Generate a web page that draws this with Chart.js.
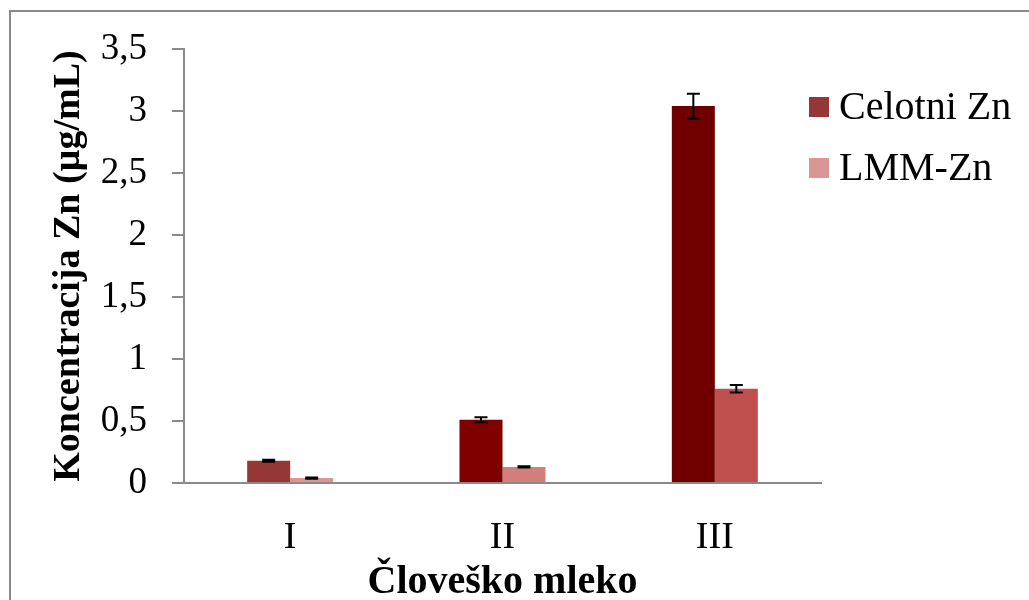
<!DOCTYPE html>
<html>
<head>
<meta charset="utf-8">
<script src="https://cdn.jsdelivr.net/npm/chart.js@4.4.0/dist/chart.umd.min.js"></script>
<style>
    body { margin: 0; background: #fff; }
    #wrap { position: relative; width: 1029px; height: 600px; overflow: hidden; }
    #frame { position: absolute; left: 9px; top: 10px; width: 1100px; height: 700px; border: 2px solid #898989; }
    #myChart { position: absolute; left: 0; top: 0; }
</style>
</head>
<body>
<div id="wrap">
    <div id="frame"></div>
    <canvas id="myChart" width="1029" height="600"></canvas>
</div>
<script>
var categories = ['I', 'II', 'III'];
var seriesNames = ['Celotni Zn', 'LMM-Zn'];
var celotniZn = [0.18, 0.51, 3.04];
var celotniErr = [0.008, 0.02, 0.1];
var lmmZn = [0.04, 0.13, 0.76];
var lmmErr = [0.005, 0.005, 0.03];
var celotniColors = ['#953735', '#800000', '#700000'];
var lmmColors = ['#d99694', '#d27f7c', '#c0504d'];

var serif = "'Liberation Serif', 'Times New Roman', serif";

// error bars drawn on top of each bar, using the y scale
var errorBars = {
    id: 'errorBars',
    afterDatasetsDraw: function(chart) {
        var ctx = chart.ctx;
        var y = chart.scales.y;
        chart.data.datasets.forEach(function(ds, i) {
            var meta = chart.getDatasetMeta(i);
            meta.data.forEach(function(bar, j) {
                var v = ds.data[j], e = ds.errors[j];
                var top = y.getPixelForValue(v + e);
                var bot = y.getPixelForValue(v - e);
                ctx.save();
                ctx.strokeStyle = '#000';
                ctx.lineWidth = 2;
                ctx.beginPath();
                ctx.moveTo(bar.x, top); ctx.lineTo(bar.x, bot);
                ctx.moveTo(bar.x - 6.5, top); ctx.lineTo(bar.x + 6.5, top);
                ctx.moveTo(bar.x - 6.5, bot); ctx.lineTo(bar.x + 6.5, bot);
                ctx.stroke();
                ctx.restore();
            });
        });
    }
};

// legend on the right, colour taken from first bar of each series
var sideLegend = {
    id: 'sideLegend',
    afterDraw: function(chart) {
        var ctx = chart.ctx;
        var left = chart.chartArea.right - 12;
        ctx.save();
        ctx.font = '40px ' + serif;
        ctx.textBaseline = 'middle';
        ctx.textAlign = 'left';
        chart.data.datasets.forEach(function(ds, i) {
            var cy = 107 + i * 61;
            ctx.fillStyle = ds.backgroundColor[0];
            ctx.fillRect(left, cy - 10, 20, 20);
            ctx.fillStyle = '#000';
            ctx.fillText(ds.label, left + 30, cy + 1);
        });
        ctx.restore();
    }
};

var ctx = document.getElementById('myChart').getContext('2d');
var myChart = new Chart(ctx, {
    type: 'bar',
    data: {
        labels: categories,
        datasets: [{
            label: seriesNames[0],
            data: celotniZn,
            errors: celotniErr,
            backgroundColor: celotniColors
        }, {
            label: seriesNames[1],
            data: lmmZn,
            errors: lmmErr,
            backgroundColor: lmmColors
        }]
    },
    options: {
        responsive: false,
        devicePixelRatio: 1,
        animation: false,
        layout: { padding: { left: 46, top: 49, right: 208, bottom: 0 } },
        datasets: { bar: { barPercentage: 1, categoryPercentage: 0.405 } },
        plugins: {
            legend: { display: false },
            tooltip: { enabled: false }
        },
        scales: {
            x: {
                grid: { display: false },
                border: { display: true, color: '#8a8a8a', width: 2 },
                ticks: { color: '#000', padding: 24, font: { family: serif, size: 38 } },
                title: {
                    display: true,
                    text: 'Človeško mleko',
                    color: '#000',
                    padding: { top: 0, bottom: 0 },
                    font: { family: serif, size: 40, weight: 'bold', lineHeight: 0.85 }
                },
                afterFit: function(scale) { scale.height = 117; }
            },
            y: {
                min: 0,
                max: 3.5,
                grid: { drawOnChartArea: false, drawTicks: true, tickLength: 12, color: '#8a8a8a', lineWidth: 2 },
                border: { display: true, color: '#8a8a8a', width: 2 },
                ticks: {
                    stepSize: 0.5,
                    color: '#000',
                    padding: 25,
                    font: { family: serif, size: 37 },
                    callback: function(v) { return String(v).replace('.', ','); }
                },
                title: {
                    display: true,
                    text: 'Koncentracija Zn (µg/mL)',
                    color: '#000',
                    padding: { top: 0, bottom: 0 },
                    font: { family: serif, size: 38, weight: 'bold' }
                },
                afterFit: function(scale) { scale.width = 138; }
            }
        }
    },
    plugins: [errorBars, sideLegend]
});
</script>
</body>
</html>
